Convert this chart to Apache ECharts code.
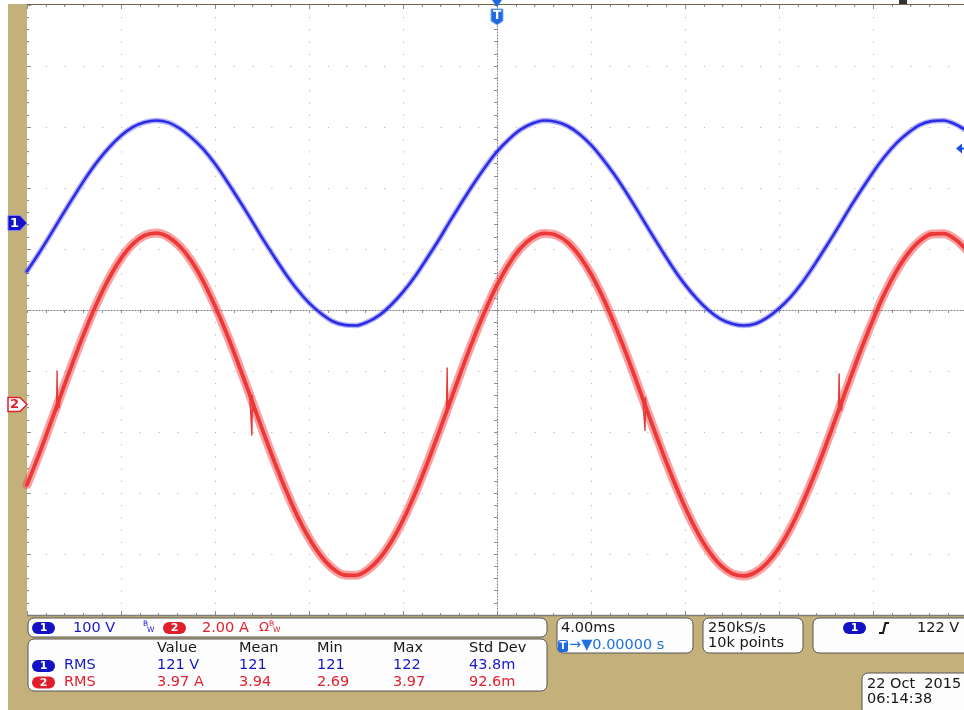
<!DOCTYPE html>
<html><head><meta charset="utf-8">
<script src="https://cdn.jsdelivr.net/npm/echarts@6/dist/echarts.min.js"></script>
<style>html,body{margin:0;padding:0;background:#fff;}#c{width:964px;height:710px;}</style>
</head><body><div id="c"></div>
<script>
// ---- data ----
const timeMs = [-20,-19.5,-19,-18.5,-18,-17.5,-17,-16.5,-16,-15.5,-15,-14.5,-14,-13.5,-13,-12.5,-12,-11.5,-11,-10.5,
  -10,-9.5,-9,-8.5,-8,-7.5,-7,-6.5,-6,-5.5,-5,-4.5,-4,-3.5,-3,-2.5,-2,-1.5,-1,-0.5,
  0,0.5,1,1.5,2,2.5,3,3.5,4,4.5,5,5.5,6,6.5,7,7.5,8,8.5,9,9.5,
  10,10.5,11,11.5,12,12.5,13,13.5,14,14.5,15,15.5,16,16.5,17,17.5,18,18.5,19,19.5,20];
const ch1Volts = [-79,-50,-19,13,44,74,101,124,143,157,
  165,168,165,155,140,121,97,69,39,8,
  -24,-54,-83,-109,-131,-148,-161,-167,-168,-162,
  -151,-134,-113,-88,-59,-29,3,34,64,92,
  117,137,153,163,168,166,159,146,128,105,
  79,50,19,-13,-44,-74,-101,-124,-143,-157,
  -165,-168,-165,-155,-140,-121,-97,-69,-39,-8,
  24,54,83,109,131,148,161,167,168,162,
  151];
const ch2Amps = [-2.63,-1.66,-0.62,0.44,1.48,2.47,3.37,4.15,4.79,5.26,
  5.54,5.62,5.50,5.19,4.70,4.04,3.23,2.32,1.32,0.27,
  -0.79,-1.82,-2.78,-3.65,-4.38,-4.96,-5.37,-5.59,-5.60,-5.42,
  -5.05,-4.50,-3.79,-2.94,-1.99,-0.97,0.08,1.14,2.15,3.08,
  3.91,4.60,5.12,5.46,5.61,5.56,5.32,4.88,4.28,3.52,
  2.63,1.66,0.62,-0.44,-1.48,-2.47,-3.37,-4.15,-4.79,-5.26,
  -5.54,-5.62,-5.50,-5.19,-4.70,-4.04,-3.23,-2.32,-1.32,-0.27,
  0.79,1.82,2.78,3.65,4.38,4.96,5.37,5.59,5.60,5.42,
  5.05];
const ch2GlitchTimes = [
  [-18.80,-18.74,-18.72,-18.70,-18.67,-18.63,-18.58,-18.52],
  [-10.52,-10.46,-10.43,-10.41,-10.38,-10.34,-10.28],
  [-2.20,-2.15,-2.12,-2.10,-2.06,-2.02,-1.96],
  [6.20,6.26,6.30,6.32,6.36,6.40],
  [14.48,14.53,14.56,14.58,14.62,14.66,14.72]];
const ch2GlitchAmps = [
  [-0.20,-0.06,1.10,-0.18,0.22,-0.10,0.30,0.42],
  [0.32,0.30,-1.00,0.30,-0.22,0.06,-0.20],
  [-0.33,-0.22,1.20,-0.25,0.12,-0.12,0.18],
  [0.20,0.16,-0.85,0.22,-0.28,-0.20],
  [-0.30,-0.18,1.00,-0.25,0.05,-0.18,0.18]];

const ch1Scale = '100 V';
const ch2Scale = '2.00 A';
const measHeaders = ['Value','Mean','Min','Max','Std Dev'];
const measCh1 = ['121 V','121','121','122','43.8m'];
const measCh2 = ['3.97 A','3.94','2.69','3.97','92.6m'];
const timebase = '4.00ms';
const triggerPos = '\u2192\u25BC0.00000 s';
const sampleRate = '250kS/s';
const recordLen = '10k points';
const trigLevelV = 122;
const trigLevelText = '122 V';
const dateText = '22 Oct  2015';
const timeText = '06:14:38';

// ---- chart ----
const BLUE = '#1717c6', RED = '#e1212e', INK = '#161616', LBLUE = '#1f72e0';
const FONT = 'DejaVu Sans';
const chart = echarts.init(document.getElementById('c'), null, {renderer:'canvas'});
const pair = (xs, ys) => xs.map((t, i) => [t, ys[i]]);
const tickCol = '#8d8d8d';
const edgeAxis = (pos, min, max, interval) => ({
  type:'value', position:pos, min:min, max:max, interval:interval,
  axisLine:{show:false, onZero:false}, axisLabel:{show:false}, splitLine:{show:false},
  axisTick:{show:true, inside:true, length:4, lineStyle:{color:tickCol}},
  minorTick:{show:true, splitNumber:5, length:2, lineStyle:{color:tickCol}}
});
const ln = (yIdx, data, color, width, opacity, z, smooth) => ({
  type:'line', xAxisIndex:0, yAxisIndex:yIdx, data:data, smooth:smooth === undefined ? 0.3 : smooth,
  symbol:'none', silent:true, z:z,
  lineStyle:{color:color, width:width, opacity:opacity, cap:'round', join:'round'}
});

const series = [
  ln(1, pair(timeMs, ch1Volts), '#4646ee', 5.5, 0.4, 2),
  ln(1, pair(timeMs, ch1Volts), '#2c2ce4', 2.6, 1, 3),
  ln(2, pair(timeMs, ch2Amps), '#f24848', 9, 0.5, 2),
  ln(2, pair(timeMs, ch2Amps), '#ee3838', 3.8, 1, 3)
];
ch2GlitchTimes.forEach((ts, g) => series.push(ln(2, pair(ts, ch2GlitchAmps[g]), '#e83838', 1.4, 1, 4, false)));

chart.setOption({
  animation:false,
  grid:{left:27, top:5, width:940, height:610, show:true, backgroundColor:'#ffffff', borderWidth:0, outerBoundsMode:'none'},
  xAxis:[
    {type:'value', min:-20, max:20, interval:4,
     axisLabel:{show:false},
     axisLine:{show:true, onZero:true, onZeroAxisIndex:0, lineStyle:{color:'#7a7a7a', type:[1,2], width:1}},
     axisTick:{show:true, length:3, lineStyle:{color:tickCol}},
     minorTick:{show:true, splitNumber:5, length:3, lineStyle:{color:tickCol}},
     splitLine:{show:true, lineStyle:{color:'#a8a8a8', type:[1,11.2], width:1}}},
    edgeAxis('top', -20, 20, 4),
    edgeAxis('bottom', -20, 20, 4)
  ],
  yAxis:[
    {type:'value', min:-5, max:5, interval:1,
     axisLabel:{show:false},
     axisLine:{show:true, onZero:true, onZeroAxisIndex:0, lineStyle:{color:'#7a7a7a', type:[1,2], width:1}},
     axisTick:{show:true, length:3, lineStyle:{color:tickCol}},
     minorTick:{show:true, splitNumber:5, length:3, lineStyle:{color:tickCol}},
     splitLine:{show:true, lineStyle:{color:'#a8a8a8', type:[1,17.8], width:1}}},
    {type:'value', min:-642.6, max:357.4, show:false},
    {type:'value', min:-6.902, max:13.098, show:false},
    edgeAxis('left', -5, 5, 1)
  ],
  series:series
});

// ---- overlay (markers and readout panels) ----
const yG1 = chart.convertToPixel({yAxisIndex:1}, 0);
const yG2 = chart.convertToPixel({yAxisIndex:2}, 0);
const yTrig = chart.convertToPixel({yAxisIndex:1}, trigLevelV);
const xT = chart.convertToPixel({xAxisIndex:0}, 0);

const txt = (x, y, s, fill, size, weight, align) => ({type:'text', z:120,
  style:{text:s, x:x, y:y, fill:fill, font:(weight||'normal') + ' ' + (size||14.5) + 'px ' + FONT,
         align:align||'left', verticalAlign:'middle'}});
const rect = (x, y, w, h, r, fill, stroke) => ({type:'rect', z:110,
  shape:{x:x, y:y, width:w, height:h, r:r}, style:{fill:fill, stroke:stroke||null, lineWidth:1}});
const pill = (x, yc, label, fill) => [rect(x, yc-6, 23, 12, 6, fill), txt(x+11.5, yc+0.5, label, '#fff', 11, 'bold', 'center')];
const line = (x1, y1, x2, y2, stroke, w) => ({type:'line', z:115, shape:{x1:x1,y1:y1,x2:x2,y2:y2}, style:{stroke:stroke, lineWidth:w||1}});

const G = [];
const GOLD = '#c3b07a';
G.push({type:'rect', z:1, shape:{x:8, y:4, width:19, height:612}, style:{fill:GOLD}});
G.push({type:'rect', z:1, shape:{x:8, y:615, width:956, height:95}, style:{fill:GOLD}});
G.push(line(27, 4.5, 964, 4.5, '#6f6542', 1));
G.push(line(27, 615.5, 964, 615.5, '#7c7c7c', 1.5));
G.push({type:'rect', z:115, shape:{x:899, y:0, width:8, height:4}, style:{fill:'#333'}});

// channel ground markers
G.push({type:'polygon', z:120, shape:{points:[[8,yG1-7.5],[20,yG1-7.5],[27,yG1],[20,yG1+7.5],[8,yG1+7.5]]}, style:{fill:'#1414c4', stroke:'#8080ff', lineWidth:1}});
G.push(txt(14.5, yG1+0.5, '1', '#fff', 13, 'bold', 'center'));
G.push({type:'polygon', z:120, shape:{points:[[8,yG2-7],[20,yG2-7],[27,yG2],[20,yG2+7],[8,yG2+7]]}, style:{fill:'#fff', stroke:RED, lineWidth:1.5}});
G.push(txt(14.5, yG2+0.5, '2', RED, 13, 'bold', 'center'));
// trigger position marker
G.push({type:'polygon', z:120, shape:{points:[[xT-5,0],[xT+5,0],[xT,7]]}, style:{fill:'#1f6ae0'}});
G.push({type:'polygon', z:120, shape:{points:[[xT-6,9],[xT+6,9],[xT+6,21],[xT,25],[xT-6,21]]}, style:{fill:'#1f6ae0', stroke:'#7fb0ff', lineWidth:1}});
G.push(txt(xT, 16, 'T', '#fff', 12, 'bold', 'center'));
// trigger level marker
G.push({type:'polygon', z:120, shape:{points:[[956,yTrig],[962,yTrig-5],[962,yTrig+5]]}, style:{fill:'#1f4fe0'}});
G.push(line(960, yTrig, 964, yTrig, '#1f4fe0', 2));

// scale panel
G.push(rect(28, 618, 519, 19, 6, '#fdfdfd', '#555'));
G.push(...pill(32, 628, '1', '#1212c4'));
G.push(txt(73, 628, ch1Scale, BLUE));
G.push(txt(143, 624.5, 'B', BLUE, 7.5), txt(147, 630.5, 'W', BLUE, 7.5));
G.push(...pill(163, 628, '2', '#e01e2c'));
G.push(txt(202, 628, ch2Scale, RED));
G.push(txt(259, 628, '\u03A9', RED, 13));
G.push(txt(269, 624.5, 'B', RED, 7.5), txt(273, 630.5, 'W', RED, 7.5));

// measurement panel
G.push(rect(28, 639, 519, 52, 6, '#fdfdfd', '#555'));
const colX = [157, 239, 317, 393, 469];
measHeaders.forEach((h, i) => G.push(txt(colX[i], 648.5, h, INK)));
G.push(...pill(32, 666, '1', '#1212c4'));
G.push(txt(64, 665.5, 'RMS', BLUE));
measCh1.forEach((v, i) => G.push(txt(colX[i], 665.5, v, BLUE)));
G.push(...pill(32, 682.5, '2', '#e01e2c'));
G.push(txt(64, 682.5, 'RMS', RED));
measCh2.forEach((v, i) => G.push(txt(colX[i], 682.5, v, RED)));

// timebase panel
G.push(rect(557, 618, 136, 35, 6, '#fdfdfd', '#555'));
G.push(txt(561, 628, timebase, INK));
G.push(rect(558, 640, 10, 12, 2, '#1f6ae0'));
G.push(txt(563, 646.5, 'T', '#fff', 10, 'bold', 'center'));
G.push(txt(569, 645, triggerPos, LBLUE));
// acquisition panel
G.push(rect(703, 618, 100, 35, 6, '#fdfdfd', '#555'));
G.push(txt(708, 628, sampleRate, INK));
G.push(txt(708, 643.5, recordLen, INK));
// trigger panel
G.push(rect(813, 618, 170, 35, 6, '#fdfdfd', '#555'));
G.push(...pill(843, 628, '1', '#1212c4'));
G.push({type:'polyline', z:120, shape:{points:[[879,633],[883,633],[885.5,623],[889,623]]}, style:{stroke:INK, lineWidth:2, fill:null}});
G.push(txt(917, 628, trigLevelText, INK));
// date panel
G.push(rect(862, 673, 130, 42, 6, '#fdfdfd', '#555'));
G.push(txt(867, 684, dateText, INK));
G.push(txt(867, 699, timeText, INK));

chart.setOption({graphic:G});
</script></body></html>
